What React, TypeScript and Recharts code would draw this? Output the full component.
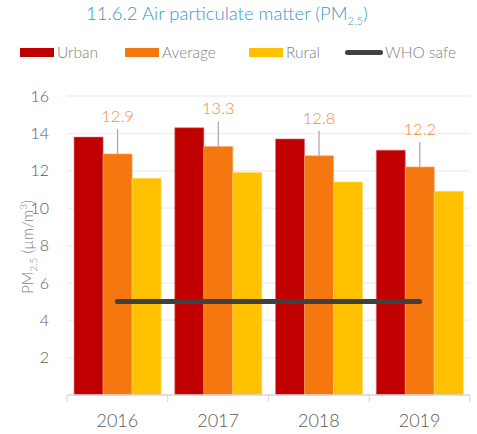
import React from 'react';
import { ComposedChart, Bar, Line, XAxis, YAxis, CartesianGrid, LabelList } from 'recharts';

const years = ['2016', '2017', '2018', '2019'];
const urban = [13.8, 14.3, 13.7, 13.1];
const average = [12.9, 13.3, 12.8, 12.2];
const rural = [11.6, 11.9, 11.4, 10.9];
const whoSafe = [5, 5, 5, 5];
const yTicks = [2, 4, 6, 8, 10, 12, 14, 16];

const data = years.map((year, i) => ({
    year,
    urban: urban[i],
    average: average[i],
    rural: rural[i],
    who: whoSafe[i],
}));

const FONT = 'Lato, "Open Sans", sans-serif';
const GREY = '#7f7f7f';

const legendItems = [
    { name: 'Urban', color: '#c00000', left: 20, line: false },
    { name: 'Average', color: '#f4780f', left: 125, line: false },
    { name: 'Rural', color: '#ffc000', left: 249, line: false },
    { name: 'WHO safe', color: '#404040', left: 345, line: true },
];

const AvgLabel = (props: any) => {
    const { x, y, width, value } = props;
    const cx = x + width / 2;
    return (
        <g>
            <line x1={cx} y1={y} x2={cx} y2={y - 25} stroke="#a6a6a6" strokeWidth={1.2} />
            <text x={cx} y={y - 32} textAnchor="middle" fill="#f58a3c" fontSize={16.5} fontFamily={FONT} fontWeight={300}>
                {value}
            </text>
        </g>
    );
};

const YearTick = (props: any) => {
    const { x, y, payload } = props;
    const half = payload.offset || 50.4;
    return (
        <g>
            <line x1={x - half} y1={y - 8} x2={x - half} y2={y - 1} stroke="#d9d9d9" strokeWidth={1.2} />
            {payload.index === years.length - 1 && (
                <line x1={x + half} y1={y - 8} x2={x + half} y2={y - 1} stroke="#d9d9d9" strokeWidth={1.2} />
            )}
            <text x={x} y={y + 24} textAnchor="middle" fill="#595959" fontSize={18} fontFamily={FONT} fontWeight={300}>
                {payload.value}
            </text>
        </g>
    );
};

export default function App() {
    return (
        <div style={{ position: 'absolute', left: 0, top: 0, width: 477, height: 434, background: '#fff', fontFamily: FONT }}>
            <div style={{ position: 'absolute', left: 86, top: 2, fontSize: 18.5, color: '#3d96c8', fontWeight: 300, whiteSpace: 'nowrap' }}>
                11.6.2 Air particulate matter (PM<sub style={{ fontSize: 11 }}>2.5</sub>)
            </div>
            {legendItems.map((it) => (
                <div key={it.name} style={{ position: 'absolute', left: it.left, top: 42, height: 20, display: 'flex', alignItems: 'center', whiteSpace: 'nowrap' }}>
                    {it.line ? (
                        <div style={{ width: 38, height: 5, borderRadius: 3, background: it.color, marginRight: 2 }} />
                    ) : (
                        <div style={{ width: 34, height: 9, background: it.color, marginRight: 3 }} />
                    )}
                    <span style={{ fontSize: 15.5, color: GREY, fontWeight: 300 }}>{it.name}</span>
                </div>
            ))}
            <div
                style={{
                    position: 'absolute',
                    left: 27,
                    top: 247,
                    transform: 'translate(-50%, -50%) rotate(-90deg)',
                    fontSize: 15,
                    color: GREY,
                    whiteSpace: 'nowrap',
                    fontWeight: 300,
                    lineHeight: '18px',
                }}
            >
                PM<sub style={{ fontSize: 10, lineHeight: 0 }}>2.5</sub> (µm/m<sup style={{ fontSize: 10, lineHeight: 0 }}>3</sup>)
            </div>
            <div style={{ position: 'absolute', left: 0, top: 0 }}>
                <ComposedChart
                    width={477}
                    height={434}
                    data={data}
                    margin={{ top: 96, right: 7, bottom: 0, left: 0 }}
                    barCategoryGap="7%"
                    barGap={0}
                >
                    <CartesianGrid vertical={false} stroke="#efefef" strokeWidth={1.5} />
                    <XAxis
                        dataKey="year"
                        axisLine={{ stroke: '#d9d9d9', strokeWidth: 1.5 }}
                        tickLine={false}
                        tick={<YearTick />}
                        height={39}
                        interval={0}
                    />
                    <YAxis
                        width={67}
                        domain={[0, 16]}
                        ticks={yTicks}
                        axisLine={false}
                        tickLine={false}
                        tickMargin={12}
                        tick={{ fill: '#595959', fontSize: 16, fontFamily: FONT, fontWeight: 300 }}
                    />
                    <Bar dataKey="urban" fill="#c00000" stroke="#e06666" strokeWidth={0.6} isAnimationActive={false} />
                    <Bar dataKey="average" fill="#f4780f" stroke="#f9a56a" strokeWidth={0.6} isAnimationActive={false}>
                        <LabelList dataKey="average" content={<AvgLabel />} />
                    </Bar>
                    <Bar dataKey="rural" fill="#ffc000" stroke="#ffd966" strokeWidth={0.6} isAnimationActive={false} />
                    <Line
                        dataKey="who"
                        stroke="#404040"
                        strokeWidth={5}
                        strokeLinecap="round"
                        dot={false}
                        activeDot={false}
                        isAnimationActive={false}
                    />
                </ComposedChart>
            </div>
        </div>
    );
}
